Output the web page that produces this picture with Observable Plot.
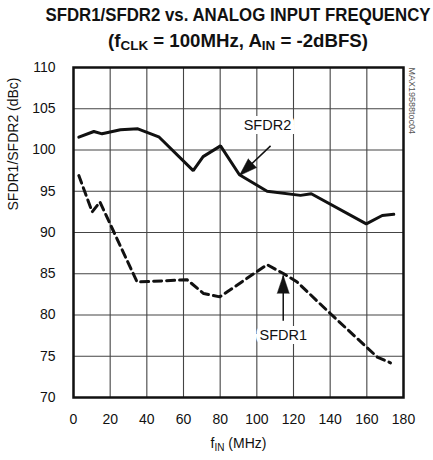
<!DOCTYPE html>
<html>
<head>
<meta charset="utf-8">
<script src="https://cdn.jsdelivr.net/npm/d3@7"></script>
<script src="https://cdn.jsdelivr.net/npm/@observablehq/plot@0.6"></script>
<style>
  body { margin: 0; background: white; }
  #title { position: relative; width: 433px; height: 55px;
    font-family: "Liberation Sans", Arial, sans-serif; font-weight: bold; font-size: 18px;
    line-height: 22px; white-space: nowrap; color: #111; }
  #title .ln { position: absolute; left: 238px; display: inline-block; transform-origin: center; }
  #title sub { font-size: 13px; vertical-align: -3px; line-height: 0; }
</style>
</head>
<body>
<div id="title"><span class="ln" data-w="385" style="top:4px">SFDR1/SFDR2 vs. ANALOG INPUT FREQUENCY</span><span class="ln" data-w="260" style="top:30px">(f<sub>CLK</sub> = 100MHz, A<sub>IN</sub> = -2dBFS)</span></div>
<div id="chart"></div>
<script>
const xTicks = [0, 20, 40, 60, 80, 100, 120, 140, 160, 180];
const yTicks = [70, 75, 80, 85, 90, 95, 100, 105, 110];

const sfdr2Freq = [2.9, 11.1, 15.6, 25.6, 35.1, 46.5, 65.3, 70.7, 80.2, 90.5, 105.6, 123.8, 129.7, 159.7, 168.4, 174.7];
const sfdr2Val  = [101.55, 102.24, 101.96, 102.45, 102.57, 101.6, 97.5, 99.2, 100.5, 97.0, 95.0, 94.5, 94.7, 91.05, 92.06, 92.2];

const sfdr1Freq = [2.9, 10.2, 14.4, 34.7, 62.0, 71.0, 79.8, 105.6, 114.7, 122.0, 140.2, 165.7, 172.9];
const sfdr1Val  = [96.9, 92.5, 93.7, 84.0, 84.27, 82.6, 82.2, 86.1, 85.0, 84.0, 80.15, 74.9, 74.2];

const annLabels = ["SFDR2", "SFDR1"];
const annTextX = [105.8, 114.4];
const annTextY = [103.0, 77.5];
const annFromX = [107.5, 114.4];
const annFromY = [100.5, 79.3];
const annToX = [90.5, 114.4];
const annToY = [96.9, 84.8];

// fit title lines to the condensed widths of the original, centred over the frame
document.querySelectorAll("#title .ln").forEach(el => {
  const w = el.getBoundingClientRect().width;
  el.style.transform = `translateX(-50%) scaleX(${(+el.dataset.w / w).toFixed(3)})`;
});

const font = '"Liberation Sans", Arial, sans-serif';
const W = 433, H = 405, mT = 12, mB = 63, mL = 73, mR = 30;
const kx = (W - mL - mR) / 180, ky = (H - mT - mB) / 40;

const sfdr2 = sfdr2Freq.map((f, i) => ({f, v: sfdr2Val[i]}));
const sfdr1 = sfdr1Freq.map((f, i) => ({f, v: sfdr1Val[i]}));
const ann = annLabels.map((label, i) => ({
  label, tx: annTextX[i], ty: annTextY[i], x1: annFromX[i], y1: annFromY[i], x2: annToX[i], y2: annToY[i],
  rot: Math.atan2((annToX[i] - annFromX[i]) * kx, (annToY[i] - annFromY[i]) * ky) * 180 / Math.PI
}));

const plot = Plot.plot({
  width: W, height: H, marginTop: mT, marginBottom: mB, marginLeft: mL, marginRight: mR,
  style: {fontFamily: font, fontSize: "14px", color: "#111", background: "white"},
  x: {domain: [0, 180], ticks: xTicks, label: null},
  y: {domain: [70, 110], ticks: yTicks, label: null},
  marks: [
    Plot.ruleX(xTicks, {stroke: "#444", strokeWidth: 1.1}),
    Plot.ruleY(yTicks, {stroke: "#444", strokeWidth: 1.1}),
    Plot.axisX({ticks: xTicks, tickSize: 0, tickPadding: 17, fontSize: 14, label: null}),
    Plot.axisY({ticks: yTicks, tickSize: 0, tickPadding: 18, fontSize: 14, label: null}),
    Plot.line(sfdr2, {x: "f", y: "v", stroke: "#111", strokeWidth: 3, strokeLinejoin: "miter"}),
    Plot.line(sfdr1, {x: "f", y: "v", stroke: "#111", strokeWidth: 3, strokeDasharray: "8,5"}),
    Plot.text(ann, {x: "tx", y: "ty", text: "label", fontSize: 14.5, fill: "#111", stroke: "white", strokeWidth: 8, strokeLinejoin: "miter"}),
    Plot.link(ann, {x1: "x1", y1: "y1", x2: "x2", y2: "y2", stroke: "#111", strokeWidth: 1.5}),
    Plot.vector(ann, {x: "x2", y: "y2", rotate: "rot", length: 18, r: 6, shape: "spike", anchor: "end", fill: "#111", fillOpacity: 1, stroke: "#111", strokeWidth: 0.5}),
    Plot.frame({stroke: "#111", strokeWidth: 2.5}),
    Plot.text(["SFDR1/SFDR2 (dBc)"], {frameAnchor: "left", dx: -60, dy: -22, rotate: -90, fontSize: 14, fill: "#111"}),
    Plot.text(["fIN (MHz)"], {frameAnchor: "bottom", dy: 50, fontSize: 14, fill: "#111", className: "xlab"}),
    Plot.text(["MAX19588toc04"], {frameAnchor: "top-right", dx: 8, rotate: 90, textAnchor: "start", lineAnchor: "middle", fontSize: 9, fill: "#555"})
  ]
});
document.getElementById("chart").appendChild(plot);
d3.select(plot).selectAll(".xlab text").each(function () {
  const t = d3.select(this);
  t.text(null);
  t.append("tspan").text("f");
  t.append("tspan").attr("font-size", 10).attr("dy", 3).text("IN");
  t.append("tspan").attr("dy", -3).text(" (MHz)");
});
</script>
</body>
</html>
